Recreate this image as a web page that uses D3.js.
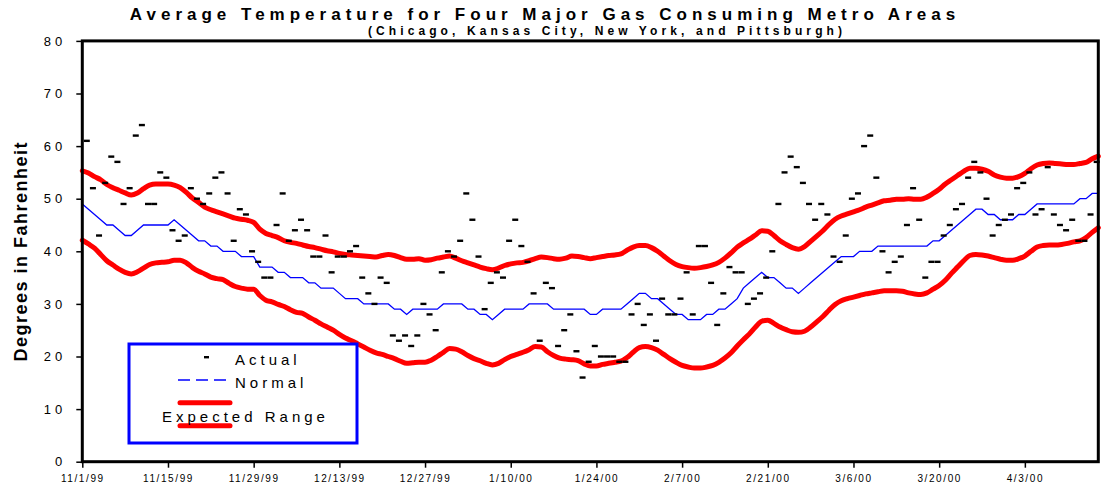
<head>
<meta charset="utf-8" />
<script src="https://d3js.org/d3.v7.min.js"></script>
</head>
<style>
  body { margin: 0; background: #fff; }
  text { font-family: "Liberation Sans", Arial, sans-serif; }
</style>
<body>
</body>
<script>
// daily series, first day 11/1/99
var startDay = "11/1/99";

var actual = [
  61,52,43,53,58,57,49,52,62,64,
  49,49,55,54,44,42,43,52,50,49,
  51,54,55,51,42,48,47,40,38,35,
  35,45,51,42,44,46,44,39,39,43,
  36,39,39,40,41,35,32,30,35,34,
  24,23,24,22,24,30,28,25,36,40,
  39,42,51,46,39,29,34,36,35,42,
  46,41,38,32,23,34,33,22,25,28,
  21,16,19,22,20,20,20,19,19,28,
  30,26,28,23,31,28,28,31,36,28,
  41,41,34,26,32,37,36,36,30,31,
  32,35,40,49,55,58,56,53,49,46,
  49,47,39,38,43,50,51,60,62,54,
  40,36,38,39,45,52,46,35,38,38,
  43,45,48,49,54,57,55,50,43,45,
  46,47,52,53,55,47,48,56,47,45,
  44,46,42,42,47,57];

var normal = [
  49,48,47,46,45,45,44,43,43,44,
  45,45,45,45,45,46,45,44,43,42,
  42,41,41,40,40,40,39,39,39,37,
  37,37,36,36,35,35,35,34,34,33,
  33,33,32,31,31,31,30,30,30,30,
  30,29,29,28,29,29,29,29,29,30,
  30,30,30,29,29,28,28,27,28,29,
  29,29,29,30,30,30,30,29,29,29,
  29,29,29,28,28,29,29,29,29,30,
  31,32,32,31,31,30,29,28,28,27,
  27,27,28,28,29,29,30,31,33,34,
  35,36,35,35,34,33,33,32,33,34,
  35,36,37,38,39,39,39,40,40,40,
  41,41,41,41,41,41,41,41,41,42,
  42,43,44,45,46,47,48,48,47,47,
  46,46,46,47,47,48,49,49,49,49,
  49,49,49,50,50,51,51];

var upper = [
  55.3,54.9,54.2,53.6,52.7,52.1,51.6,51.1,50.7,51.1,
  51.9,52.6,52.8,52.8,52.8,52.6,52.1,51.2,50.1,49.3,
  48.4,47.9,47.5,47.1,46.7,46.3,46.1,45.9,45.5,44.2,
  43.4,43.0,42.6,42.0,41.7,41.5,41.2,40.9,40.7,40.4,
  40.1,39.9,39.6,39.4,39.3,39.2,39.1,39.0,38.9,39.2,
  39.4,39.2,38.8,38.5,38.5,38.6,38.3,38.4,38.7,38.9,
  39.1,38.7,38.2,37.8,37.4,37.0,36.7,36.5,36.8,37.3,
  37.6,37.8,37.9,38.2,38.6,38.9,38.8,38.6,38.5,38.7,
  39.1,39.0,38.8,38.6,38.8,39.0,39.2,39.3,39.5,40.2,
  40.8,41.1,41.1,40.7,40.0,39.1,38.2,37.5,37.1,36.9,
  36.8,36.9,37.1,37.4,37.9,38.7,39.7,40.8,41.6,42.3,
  43.1,43.9,43.8,43.0,42.0,41.3,40.7,40.4,40.9,41.9,
  42.9,43.9,45.1,46.1,46.7,47.1,47.5,47.9,48.4,48.8,
  49.2,49.6,49.7,49.9,49.9,50.0,49.9,49.9,50.3,51.0,
  51.8,52.8,53.6,54.4,55.2,55.8,55.8,55.6,55.2,54.5,
  54.1,53.9,53.9,54.2,54.8,55.7,56.4,56.7,56.8,56.7,
  56.6,56.5,56.5,56.7,56.9,57.6,58.1];

var lower = [
  42.1,41.4,40.6,39.4,38.2,37.4,36.6,36.0,35.7,36.1,
  36.8,37.5,37.8,37.9,38.0,38.3,38.3,37.8,36.9,36.2,
  35.7,35.1,34.8,34.6,33.9,33.3,33.0,32.8,32.8,31.6,
  30.7,30.4,29.9,29.5,28.9,28.4,28.2,27.5,26.9,26.2,
  25.6,25.0,24.2,23.5,23.0,22.4,21.8,21.2,20.7,20.4,
  20.0,19.6,19.1,18.7,18.8,18.9,18.9,19.3,20.0,20.8,
  21.5,21.4,20.9,20.2,19.6,19.2,18.7,18.4,18.7,19.4,
  20.0,20.4,20.8,21.3,21.9,21.8,20.9,20.2,19.7,19.5,
  19.4,19.2,18.6,18.2,18.2,18.5,18.7,18.9,19.1,19.8,
  20.8,21.7,21.9,21.7,21.2,20.4,19.6,18.9,18.3,18.0,
  17.8,17.8,18.0,18.3,18.9,19.7,20.7,22.0,23.2,24.3,
  25.6,26.7,26.9,26.3,25.6,25.1,24.7,24.6,24.8,25.6,
  26.6,27.6,28.8,29.9,30.6,31.0,31.3,31.6,31.9,32.1,
  32.3,32.5,32.5,32.5,32.4,32.1,31.9,31.8,32.1,32.8,
  33.5,34.5,35.8,37.0,38.2,39.2,39.4,39.3,39.1,38.8,
  38.5,38.3,38.3,38.6,39.1,40.0,40.8,41.1,41.2,41.2,
  41.3,41.5,41.8,42.0,42.6,43.6,44.5];

var tickLabels = ["11/1/99","11/15/99","11/29/99","12/13/99","12/27/99","1/10/00",
  "1/24/00","2/7/00","2/21/00","3/6/00","3/20/00","4/3/00"];
var yTicks = [0,10,20,30,40,50,60,70,80];

var parse = d3.utcParse("%m/%d/%y");
var t0 = parse(startDay);
function day(i) { return d3.utcDay.offset(t0, i); }

var W = 1106, H = 486;
var plotL = 82.3, plotR = 1098.3, plotT = 40.9, plotB = 461.7;

var x = d3.scaleUtc()
  .domain([t0, day(upper.length - 1)])
  .range([plotL, plotR]);
var y = d3.scaleLinear()
  .domain([0, 80])
  .range([plotB, plotT]);

var svg = d3.select("body").append("svg")
  .attr("width", W)
  .attr("height", H);

// title
svg.append("text")
  .attr("x", 545).attr("y", 20)
  .attr("text-anchor", "middle")
  .style("font-weight", "bold").style("font-size", "17px")
  .style("letter-spacing", "5px")
  .text("Average Temperature for Four Major Gas Consuming Metro Areas");
svg.append("text")
  .attr("x", 607).attr("y", 35)
  .attr("text-anchor", "middle")
  .style("font-weight", "bold").style("font-size", "12px")
  .style("letter-spacing", "4.1px")
  .text("(Chicago, Kansas City, New York, and Pittsburgh)");

// y title
svg.append("text")
  .attr("transform", "translate(27," + ((plotT + plotB) / 2) + ") rotate(-90)")
  .attr("text-anchor", "middle")
  .style("font-weight", "bold").style("font-size", "18px")
  .style("letter-spacing", "1.5px")
  .text("Degrees in Fahrenheit");

// axes
var yAxis = svg.append("g")
  .attr("transform", "translate(" + plotL + ",0)")
  .call(d3.axisLeft(y).tickValues(yTicks).tickSize(6).tickSizeOuter(0).tickPadding(10));
yAxis.select(".domain").remove();
yAxis.selectAll("line").attr("stroke", "#000").attr("stroke-width", 1.5);
yAxis.selectAll("text")
  .style("font-size", "13px").style("letter-spacing", "4px")
  .attr("fill", "#000");

var tickDates = tickLabels.map(function (s) { return parse(s); });
var xAxis = svg.append("g")
  .attr("transform", "translate(0," + plotB + ")")
  .call(d3.axisBottom(x).tickValues(tickDates).tickSize(6).tickSizeOuter(0).tickPadding(7)
    .tickFormat(function (d, i) { return tickLabels[i]; }));
xAxis.select(".domain").remove();
xAxis.selectAll("line").attr("stroke", "#000").attr("stroke-width", 1.5);
xAxis.selectAll("text")
  .style("font-size", "10px").style("letter-spacing", "1.6px")
  .attr("fill", "#000");

// series
var redLine = d3.line()
  .x(function (d, i) { return x(day(i)); })
  .y(function (d) { return y(d); })
  .curve(d3.curveMonotoneX);

[upper, lower].forEach(function (s) {
  svg.append("path")
    .datum(s)
    .attr("d", redLine)
    .attr("fill", "none")
    .attr("stroke", "#ff0000")
    .attr("stroke-width", 5)
    .attr("stroke-linejoin", "round")
    .attr("stroke-linecap", "round");
});

var blueLine = d3.line()
  .x(function (d, i) { return x(day(i)); })
  .y(function (d) { return y(d); });

svg.append("path")
  .datum(normal)
  .attr("d", blueLine)
  .attr("fill", "none")
  .attr("stroke", "#0000ff")
  .attr("stroke-width", 1.3);

svg.append("g").selectAll("rect")
  .data(actual)
  .enter()
  .append("rect")
  .attr("x", function (d, i) { return x(day(i)) + 1.5; })
  .attr("y", function (d) { return y(d) - 1.2; })
  .attr("width", 6)
  .attr("height", 2.4)
  .attr("fill", "#000");

// frame
svg.append("rect")
  .attr("x", plotL).attr("y", plotT)
  .attr("width", plotR - plotL).attr("height", plotB - plotT)
  .attr("fill", "none")
  .attr("stroke", "#000")
  .attr("stroke-width", 3);

// legend
var lg = svg.append("g");
lg.append("rect")
  .attr("x", 129).attr("y", 344).attr("width", 228).attr("height", 99)
  .attr("fill", "#fff").attr("stroke", "#0000ff").attr("stroke-width", 3);
lg.append("rect")
  .attr("x", 204).attr("y", 356).attr("width", 5).attr("height", 2.4).attr("fill", "#000");
lg.append("line")
  .attr("x1", 178).attr("x2", 227).attr("y1", 380).attr("y2", 380)
  .attr("stroke", "#0000ff").attr("stroke-width", 1.5).attr("stroke-dasharray", "12,6");
lg.append("line")
  .attr("x1", 180).attr("x2", 230).attr("y1", 402.7).attr("y2", 402.7)
  .attr("stroke", "#ff0000").attr("stroke-width", 5).attr("stroke-linecap", "round");
lg.append("line")
  .attr("x1", 180).attr("x2", 230).attr("y1", 425.7).attr("y2", 425.7)
  .attr("stroke", "#ff0000").attr("stroke-width", 5).attr("stroke-linecap", "round");
var legendText = [["Actual", 235, 365], ["Normal", 235, 388], ["Expected Range", 162, 422]];
legendText.forEach(function (t) {
  lg.append("text")
    .attr("x", t[1]).attr("y", t[2])
    .style("font-size", "15px").style("letter-spacing", "4px")
    .text(t[0]);
});
</script>
